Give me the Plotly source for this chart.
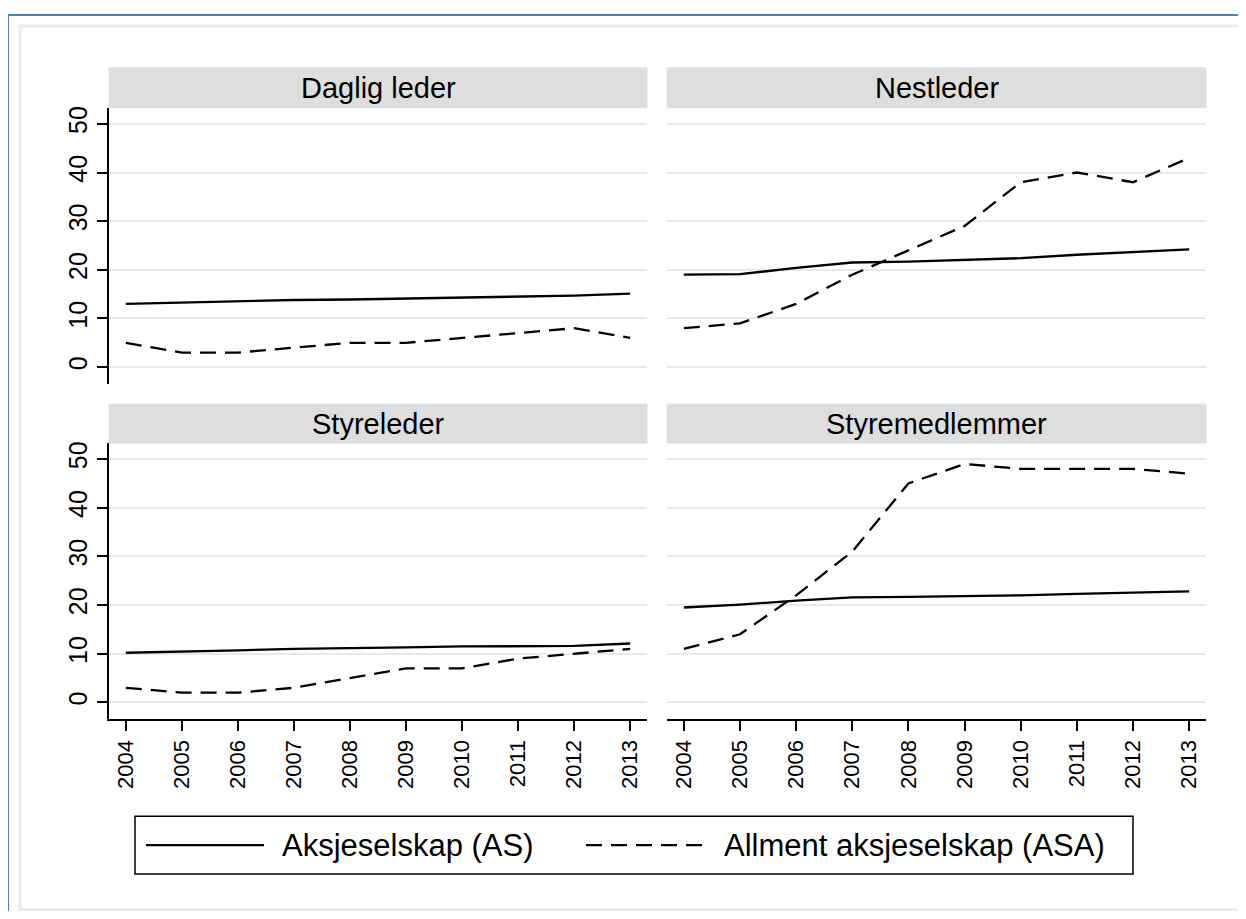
import plotly.graph_objects as go

# ---------------- data ----------------
years = [2004, 2005, 2006, 2007, 2008, 2009, 2010, 2011, 2012, 2013]
panel_titles = ["Daglig leder", "Nestleder", "Styreleder", "Styremedlemmer"]
series_names = ["Aksjeselskap (AS)", "Allment aksjeselskap (ASA)"]
y_ticks = [0, 10, 20, 30, 40, 50]

as_daglig = [13.0, 13.3, 13.6, 13.8, 13.9, 14.1, 14.3, 14.4, 14.7, 15.1]
asa_daglig = [5, 3, 3, 4, 5, 5, 6, 7, 8, 6]
as_nest = [19.0, 19.1, 20.4, 21.5, 21.7, 22.1, 22.4, 23.1, 23.7, 24.2]
asa_nest = [8, 9, 13, 19, 24, 29, 38, 40, 38, 43]
as_styrel = [10.2, 10.4, 10.7, 11.0, 11.1, 11.3, 11.5, 11.5, 11.6, 12.1]
asa_styrel = [3, 2, 2, 3, 5, 7, 7, 9, 10, 11]
as_styrem = [19.5, 20.1, 20.9, 21.6, 21.7, 21.8, 22.0, 22.3, 22.5, 22.8]
asa_styrem = [11, 14, 22, 31, 45, 49, 48, 48, 48, 47]

as_values = [as_daglig, as_nest, as_styrel, as_styrem]
asa_values = [asa_daglig, asa_nest, asa_styrel, asa_styrem]

# ---------------- geometry helpers (page pixels -> paper) ----------------
W, H, OFF = 1230, 903, 8
FONT = "Liberation Sans, Arial, Helvetica, sans-serif"
DASH = "16px,9px"
LW = 2.3


def fx(px):
    return (px - OFF) / W


def fy(py):
    return 1 - (py - OFF) / H


col_x = [(109, 647), (667, 1206)]
row_y = [(106, 383), (442, 719)]   # plot areas (top, bottom) in pixels
strip_y = [(66, 106), (403, 442)]

fig = go.Figure()
layout = dict(
    width=W, height=H,
    margin=dict(l=0, r=0, t=0, b=0),
    paper_bgcolor="white", plot_bgcolor="white",
    showlegend=False,
    font=dict(family=FONT, color="black"),
)

shapes = []
annotations = []

for i in range(4):
    r, c = divmod(i, 2)
    ax = "" if i == 0 else str(i + 1)
    fig.add_trace(go.Scatter(
        x=years, y=as_values[i], mode="lines", name=series_names[0],
        line=dict(color="black", width=LW),
        xaxis="x" + ax, yaxis="y" + ax))
    fig.add_trace(go.Scatter(
        x=years, y=asa_values[i], mode="lines", name=series_names[1],
        line=dict(color="black", width=LW, dash=DASH),
        xaxis="x" + ax, yaxis="y" + ax))

    x0, x1 = col_x[c]
    yt, yb = row_y[r]
    bottom = r == 1
    left = c == 0
    layout["xaxis" + ax] = dict(
        domain=[fx(x0), fx(x1)], range=[2003.7, 2013.3],
        anchor="y" + ax, tickvals=years, ticktext=[str(y) for y in years],
        showgrid=False, zeroline=False,
        showline=bottom, linecolor="black", linewidth=1.6,
        ticks="outside" if bottom else "", ticklen=10, tickwidth=1.6, tickcolor="black",
        showticklabels=bottom, tickangle=-90,
        tickfont=dict(size=22, family=FONT, color="black"),
    )
    layout["yaxis" + ax] = dict(
        domain=[fy(yb), fy(yt)], range=[-3.5, 53.3],
        anchor="x" + ax, tickvals=y_ticks,
        showgrid=True, gridcolor="#e9e9e9", gridwidth=2, zeroline=False,
        showline=left, linecolor="black", linewidth=1.6,
        ticks="outside" if left else "", ticklen=10, tickwidth=1.6, tickcolor="black",
        showticklabels=left, tickangle=-90,
        tickfont=dict(size=25, family=FONT, color="black"),
    )

    # strip
    s0, s1 = strip_y[r]
    shapes.append(dict(type="rect", xref="paper", yref="paper",
                       x0=fx(x0), x1=fx(x1), y0=fy(s1), y1=fy(s0),
                       fillcolor="#dedede", line=dict(color="#d3e2ea", width=1),
                       layer="below"))
    annotations.append(dict(xref="paper", yref="paper",
                            x=(fx(x0) + fx(x1)) / 2, y=(fy(s0) + fy(s1)) / 2,
                            text=panel_titles[i], showarrow=False,
                            xanchor="center", yanchor="middle",
                            font=dict(size=29, family=FONT, color="black")))

# outer frames of the original screenshot (open on the right, as in the crop)
R = fx(1238)
shapes.append(dict(type="path", xref="paper", yref="paper",
                   path=f"M {fx(8)},{fy(911)} L {fx(8)},{fy(13)} L {R},{fy(13)}",
                   line=dict(color="#4f81bd", width=2), layer="below"))
shapes.append(dict(type="path", xref="paper", yref="paper",
                   path=(f"M {R},{fy(24)} L {fx(20)},{fy(24)} "
                         f"L {fx(20)},{fy(909.5)} L {R},{fy(909.5)}"),
                   line=dict(color="#ececec", width=3), layer="below"))

# legend box (drawn by hand so the key lines have the original length)
shapes.append(dict(type="rect", xref="paper", yref="paper",
                   x0=fx(135), x1=fx(1133), y0=fy(874), y1=fy(816),
                   fillcolor="white", line=dict(color="black", width=1.5)))
ly = fy(845)
shapes.append(dict(type="line", xref="paper", yref="paper",
                   x0=fx(146), x1=fx(264), y0=ly, y1=ly,
                   line=dict(color="black", width=LW)))
shapes.append(dict(type="line", xref="paper", yref="paper",
                   x0=fx(586), x1=fx(704), y0=ly, y1=ly,
                   line=dict(color="black", width=LW, dash=DASH)))
annotations.append(dict(xref="paper", yref="paper", x=fx(280), y=ly,
                        text=series_names[0], showarrow=False,
                        xanchor="left", yanchor="middle",
                        font=dict(size=31, family=FONT, color="black")))
annotations.append(dict(xref="paper", yref="paper", x=fx(722), y=ly,
                        text=series_names[1], showarrow=False,
                        xanchor="left", yanchor="middle",
                        font=dict(size=31, family=FONT, color="black")))

layout["shapes"] = shapes
layout["annotations"] = annotations
fig.update_layout(**layout)

fig.write_html("out.html")
